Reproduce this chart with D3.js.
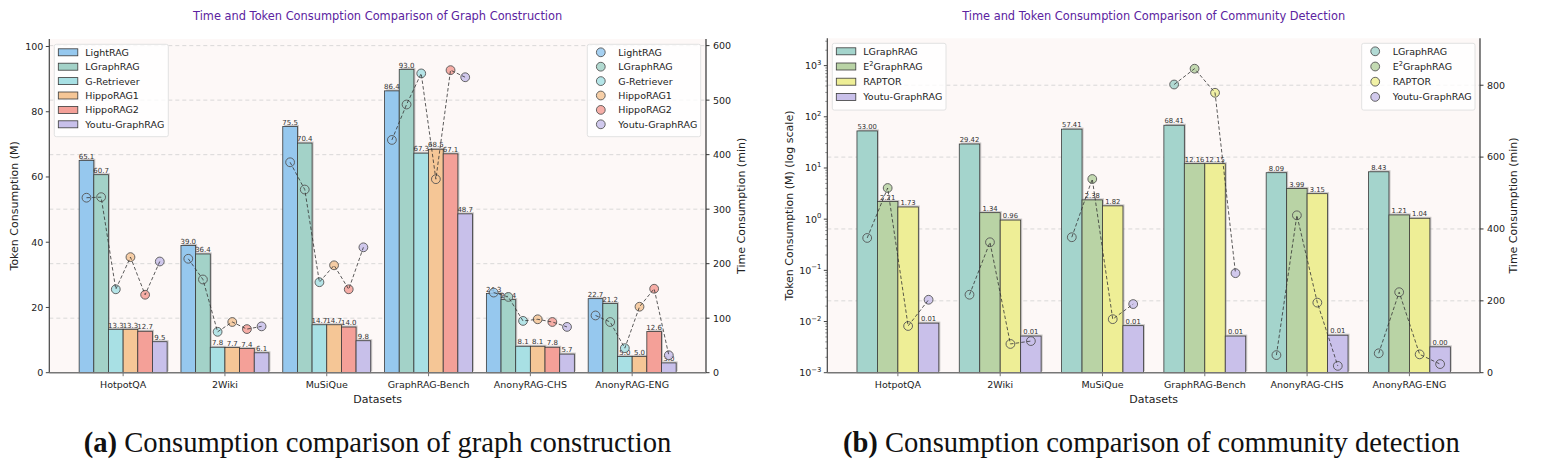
<!DOCTYPE html>
<html>
<head>
<meta charset="utf-8">
<script src="https://cdn.jsdelivr.net/npm/d3@7"></script>
<style>
  body { margin: 0; background: #fff; }
  svg { display: block; font-family: "DejaVu Sans", sans-serif; }
</style>
</head>
<body>
<svg id="chart" width="1545" height="466"></svg>
<script>
// ---- data ----
const datasets = ["HotpotQA", "2Wiki", "MuSiQue", "GraphRAG-Bench", "AnonyRAG-CHS", "AnonyRAG-ENG"];

const buildMethods = ["LightRAG", "LGraphRAG", "G-Retriever", "HippoRAG1", "HippoRAG2", "Youtu-GraphRAG"];
const buildColors = ["#96c8ee", "#a3d2c8", "#a8e0e4", "#f5c696", "#f4a098", "#c8c0ea"];
// token consumption (M) per method, per dataset
const buildTokens = [
  [65.1, 39.0, 75.5, 86.4, 24.3, 22.7],
  [60.7, 36.4, 70.4, 93.0, 22.4, 21.2],
  [13.3, 7.8, 14.7, 67.3, 8.1, 5.0],
  [13.3, 7.7, 14.7, 68.5, 8.1, 5.0],
  [12.7, 7.4, 14.0, 67.1, 7.8, 12.6],
  [9.5, 6.1, 9.8, 48.7, 5.7, 3.0]
];
// time consumption (min)
const buildTime = [
  [321, 209, 386, 427, 147, 105],
  [322, 171, 336, 492, 139, 93],
  [153, 75, 166, 549, 95, 45],
  [212, 93, 197, 355, 98, 121],
  [143, 80, 153, 555, 93, 154],
  [204, 85, 230, 542, 84, 32]
];

const commMethods = ["LGraphRAG", "E2GraphRAG", "RAPTOR", "Youtu-GraphRAG"];
const commColors = ["#a4d4cc", "#b9d3a5", "#eeee96", "#c9c0ea"];
const commTokens = [
  [53.00, 29.42, 57.41, 68.41, 8.09, 8.43],
  [2.21, 1.34, 2.38, 12.16, 3.99, 1.21],
  [1.73, 0.96, 1.82, 12.15, 3.15, 1.04],
  [0.0093, 0.0052, 0.0083, 0.0052, 0.0054, 0.0032]
];
const commTime = [
  [375, 217, 377, 802, 49, 54],
  [514, 363, 539, 846, 438, 224],
  [130, 80, 149, 779, 195, 51],
  [203, 88, 191, 277, 19, 24]
];

const leftTicks = [0, 20, 40, 60, 80, 100];
const buildTimeTicks = [0, 100, 200, 300, 400, 500, 600];
const logTicks = [-3, -2, -1, 0, 1, 2, 3];
const commTimeTicks = [0, 200, 400, 600, 800];

const svg = d3.select("#chart");

function label(sel, name) {
  // E2GraphRAG gets a superscript 2
  if (name === "E2GraphRAG") {
    sel.append("tspan").text("E");
    sel.append("tspan").attr("font-size", "0.7em").attr("dy", -4).text("2");
    sel.append("tspan").attr("dy", 4).text("GraphRAG");
  } else sel.text(name);
}

function drawPanel(cfg) {
  const g = svg.append("g");
  const { x0, x1, y0, y1 } = cfg;
  const nS = cfg.methods.length;
  const w = cfg.barW;
  const half = w * nS / 2;
  const marg = 0.05 * (datasets.length - 1 + 2 * half);
  const x = d3.scaleLinear().domain([-half - marg, datasets.length - 1 + half + marg]).range([x0, x1]);
  const bw = x(w) - x(0);
  const y = cfg.log
    ? d3.scaleLog().domain(cfg.yDomain).range([y1, y0])
    : d3.scaleLinear().domain(cfg.yDomain).range([y1, y0]);
  const yt = d3.scaleLinear().domain(cfg.tDomain).range([y1, y0]);

  g.append("rect").attr("x", x0).attr("y", y0).attr("width", x1 - x0).attr("height", y1 - y0)
    .attr("fill", "#fdf8f7");

  // grid from right axis
  g.selectAll(".grid").data(cfg.tTicks.filter(d => d > 0)).join("line")
    .attr("x1", x0).attr("x2", x1).attr("y1", d => yt(d)).attr("y2", d => yt(d))
    .attr("stroke", "#d0d0d0").attr("stroke-width", 0.8).attr("stroke-dasharray", "4,3");

  const off = j => (j - (nS - 1) / 2) * w;
  const bars = [];
  cfg.methods.forEach((m, j) => {
    datasets.forEach((ds, i) => bars.push({ j, i, v: cfg.tokens[j][i] }));
  });
  const base = cfg.log ? y1 : y(0);

  g.selectAll(".shadow").data(bars).join("rect")
    .attr("x", d => x(d.i + off(d.j)) - bw / 2 + 1.5)
    .attr("y", d => y(d.v) - 1.5)
    .attr("width", bw).attr("height", d => base - y(d.v))
    .attr("fill", "#888").attr("opacity", 0.45);

  g.selectAll(".bar").data(bars).join("rect")
    .attr("x", d => x(d.i + off(d.j)) - bw / 2)
    .attr("y", d => y(d.v))
    .attr("width", bw).attr("height", d => base - y(d.v))
    .attr("fill", d => cfg.colors[d.j])
    .attr("stroke", "#3a3a3a").attr("stroke-width", 0.8);

  g.selectAll(".blab").data(bars).join("text")
    .attr("x", d => x(d.i + off(d.j)))
    .attr("y", d => y(d.v) - 1.8)
    .attr("text-anchor", "middle").attr("font-size", cfg.labSize).attr("fill", "#333")
    .text(d => d.v.toFixed(cfg.digits));

  // time points + dashed connectors per dataset
  datasets.forEach((ds, i) => {
    const pts = cfg.methods.map((m, j) => ({ j, cx: x(i + off(j)), cy: yt(cfg.time[j][i]) }));
    g.selectAll(null).data(pts).join("circle")
      .attr("cx", d => d.cx).attr("cy", d => d.cy).attr("r", 4.4)
      .attr("fill", d => cfg.colors[d.j]).attr("fill-opacity", 0.85)
      .attr("stroke", "#555").attr("stroke-width", 0.9);
    g.append("path")
      .attr("d", d3.line().x(d => d.cx).y(d => d.cy)(pts))
      .attr("fill", "none").attr("stroke", "#333").attr("stroke-opacity", 0.8)
      .attr("stroke-width", 1).attr("stroke-dasharray", "3.5,2.2");
  });

  // spines
  g.append("line").attr("x1", x0).attr("x2", x0).attr("y1", y0).attr("y2", y1).attr("stroke", "#444").attr("stroke-width", 1.2);
  g.append("line").attr("x1", x1).attr("x2", x1).attr("y1", y0).attr("y2", y1).attr("stroke", "#333").attr("stroke-width", 1.2);
  g.append("line").attr("x1", x0).attr("x2", x1).attr("y1", y1).attr("y2", y1).attr("stroke", "#777").attr("stroke-width", 1.6);

  // x ticks
  datasets.forEach((ds, i) => {
    g.append("line").attr("x1", x(i)).attr("x2", x(i)).attr("y1", y1).attr("y2", y1 + 3.5).attr("stroke", "#777").attr("stroke-width", 1);
    g.append("text").attr("x", x(i)).attr("y", y1 + 15.5).attr("text-anchor", "middle")
      .attr("font-size", 9.5).attr("fill", "#222").text(ds);
  });

  // left ticks
  if (cfg.log) {
    logTicks.forEach(p => {
      const yy = y(Math.pow(10, p));
      g.append("line").attr("x1", x0 - 3.5).attr("x2", x0).attr("y1", yy).attr("y2", yy).attr("stroke", "#444");
      const t = g.append("text").attr("x", x0 - 6).attr("y", yy + 3.5).attr("text-anchor", "end")
        .attr("font-size", 9.5).attr("fill", "#222");
      t.append("tspan").text("10");
      t.append("tspan").attr("dy", -4.5).attr("font-size", 6.8).text(p < 0 ? "\u2212" + (-p) : p);
      if (p < 3) {
        for (let k = 2; k <= 9; k++) {
          const ym = y(k * Math.pow(10, p));
          g.append("line").attr("x1", x0 - 2).attr("x2", x0).attr("y1", ym).attr("y2", ym).attr("stroke", "#444").attr("stroke-width", 0.6);
        }
      }
    });
    // minor ticks above 10^3 up to top
    for (let k = 2; k <= 9; k++) {
      const v = k * 1000;
      if (v < cfg.yDomain[1]) {
        g.append("line").attr("x1", x0 - 2).attr("x2", x0).attr("y1", y(v)).attr("y2", y(v)).attr("stroke", "#444").attr("stroke-width", 0.6);
      }
    }
  } else {
    cfg.yTicks.forEach(v => {
      g.append("line").attr("x1", x0 - 3.5).attr("x2", x0).attr("y1", y(v)).attr("y2", y(v)).attr("stroke", "#444");
      g.append("text").attr("x", x0 - 6).attr("y", y(v) + 3.4).attr("text-anchor", "end")
        .attr("font-size", 9.5).attr("fill", "#222").text(v);
    });
  }
  // right ticks
  cfg.tTicks.forEach(v => {
    g.append("line").attr("x1", x1).attr("x2", x1 + 3.5).attr("y1", yt(v)).attr("y2", yt(v)).attr("stroke", "#333");
    g.append("text").attr("x", x1 + 7).attr("y", yt(v) + 3.4).attr("text-anchor", "start")
      .attr("font-size", 9.5).attr("fill", "#222").text(v);
  });

  // axis labels
  g.append("text").attr("transform", `translate(${cfg.ylabX},${(y0 + y1) / 2}) rotate(-90)`)
    .attr("text-anchor", "middle").attr("font-size", 11).attr("fill", "#222").text(cfg.ylab);
  g.append("text").attr("transform", `translate(${cfg.tlabX},${(y0 + y1) / 2}) rotate(-90)`)
    .attr("text-anchor", "middle").attr("font-size", 11).attr("fill", "#222").text("Time Consumption (min)");
  g.append("text").attr("x", (x0 + x1) / 2).attr("y", y1 + 30).attr("text-anchor", "middle")
    .attr("font-size", 11).attr("fill", "#222").text("Datasets");

  // title
  g.append("text").attr("x", (x0 + x1) / 2).attr("y", 20).attr("text-anchor", "middle")
    .attr("font-size", 11.4).attr("fill", "#5b23a0").text(cfg.title);

  // legends
  const rowH = cfg.rowH;
  const lb = g.append("g");
  lb.append("rect").attr("x", cfg.barLeg[0]).attr("y", cfg.legY).attr("width", cfg.barLeg[1]).attr("height", rowH * nS + 6)
    .attr("rx", 2).attr("fill", "#fff").attr("fill-opacity", 0.8).attr("stroke", "#e2e2e2");
  cfg.methods.forEach((m, j) => {
    const cy = cfg.legY + 8 + j * rowH;
    lb.append("rect").attr("x", cfg.barLeg[0] + 4).attr("y", cy - 3.5).attr("width", 19.5).attr("height", 7)
      .attr("fill", cfg.colors[j]).attr("stroke", "#3a3a3a").attr("stroke-width", 0.8);
    lb.append("text").attr("x", cfg.barLeg[0] + 31).attr("y", cy + 3.5).attr("font-size", 9.5).attr("fill", "#222")
      .call(label, m);
  });
  const ls = g.append("g");
  ls.append("rect").attr("x", cfg.ptLeg[0]).attr("y", cfg.legY).attr("width", cfg.ptLeg[1]).attr("height", rowH * nS + 6)
    .attr("rx", 2).attr("fill", "#fff").attr("fill-opacity", 0.8).attr("stroke", "#e2e2e2");
  cfg.methods.forEach((m, j) => {
    const cy = cfg.legY + 8 + j * rowH;
    ls.append("circle").attr("cx", cfg.ptLeg[0] + 13.5).attr("cy", cy).attr("r", 4.4)
      .attr("fill", cfg.colors[j]).attr("fill-opacity", 0.85).attr("stroke", "#555").attr("stroke-width", 0.9);
    ls.append("text").attr("x", cfg.ptLeg[0] + 31).attr("y", cy + 3.5).attr("font-size", 9.5).attr("fill", "#222")
      .call(label, m);
  });
}

drawPanel({
  x0: 49.3, x1: 706, y0: 39, y1: 372.7,
  methods: buildMethods, colors: buildColors, tokens: buildTokens, time: buildTime,
  barW: 0.144, log: false,
  yDomain: [0, 93.0 * 1.1], yTicks: leftTicks,
  tDomain: [0, 556.5 * 1.1], tTicks: buildTimeTicks,
  digits: 1, labSize: 7,
  ylab: "Token Consumption (M)", ylabX: 18, tlabX: 745,
  title: "Time and Token Consumption Comparison of Graph Construction",
  legY: 44.3, rowH: 14.4, barLeg: [54.3, 114], ptLeg: [587.3, 113.4]
});

drawPanel({
  x0: 827.3, x1: 1480, y0: 38.3, y1: 372.7,
  methods: commMethods, colors: commColors, tokens: commTokens, time: commTime,
  barW: 0.2, log: true,
  yDomain: [1e-3, 68.41 * 50], yTicks: null,
  tDomain: [0, 846 * 1.1], tTicks: commTimeTicks,
  digits: 2, labSize: 6.8,
  ylab: "Token Consumption (M) (log scale)", ylabX: 793, tlabX: 1517,
  title: "Time and Token Consumption Comparison of Community Detection",
  legY: 43.3, rowH: 15.2, barLeg: [832.3, 113.7], ptLeg: [1361.7, 113.3]
});

// captions under each panel
const captions = [
  { tag: "(a)", text: " Consumption comparison of graph construction", cx: 377.5, width: 588 },
  { tag: "(b)", text: " Consumption comparison of community detection", cx: 1151.3, width: 617 }
];
captions.forEach(c => {
  const t = svg.append("text").attr("x", c.cx).attr("y", 451.5).attr("text-anchor", "middle")
    .attr("font-family", "'Liberation Serif', serif").attr("font-size", 26).attr("fill", "#111");
  t.append("tspan").attr("font-weight", "bold").text(c.tag);
  t.append("tspan").text(c.text);
  const len = t.node().getComputedTextLength();
  t.attr("font-size", 26 * c.width / len);
});
</script>
</body>
</html>
